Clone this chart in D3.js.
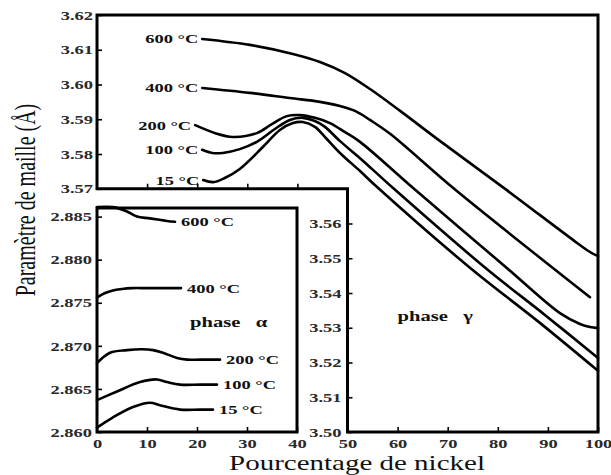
<!DOCTYPE html>
<html>
<head>
<meta charset="utf-8">
<script src="https://cdn.jsdelivr.net/npm/d3@7"></script>
<style>
  html, body { margin: 0; padding: 0; background: #fff; }
  svg { display: block; }
  text { font-family: "Liberation Serif", "Times New Roman", serif; }
</style>
</head>
<body>
<svg id="chart" width="611" height="475"></svg>
<script>
// Lattice parameter of Fe–Ni alloys versus nickel content.
// Gamma phase (fcc) in the main frame, alpha phase (bcc) in the inset.

const temps = ["600 °C", "400 °C", "200 °C", "100 °C", "15 °C"];

// gamma phase: % Ni and lattice parameter (Å)
const gammaX600 = [21.0, 30.5, 39.1, 44.5, 49.5, 54.5, 60.5, 68.5, 81.8, 95.0, 98.4, 100];
const gammaY600 = [3.6131, 3.6114, 3.6088, 3.6065, 3.6033, 3.5987, 3.5924, 3.5837, 3.5696, 3.5553, 3.5518, 3.5506];
const gammaX400 = [21.0, 30.5, 38.5, 44.5, 48.5, 51.5, 54.5, 58.5, 71.1, 91.0, 98.4];
const gammaY400 = [3.5990, 3.5976, 3.5961, 3.5950, 3.5938, 3.5924, 3.5898, 3.5858, 3.5702, 3.5472, 3.5388];
const gammaX200 = [19.6, 23.6, 27.1, 31.9, 34.9, 37.9, 40.5, 43.5, 46.5, 49.5, 52.5, 63.1, 81.8, 92.4, 96.4, 98.4, 100];
const gammaY200 = [3.5883, 3.5860, 3.5849, 3.5860, 3.5886, 3.5909, 3.5912, 3.5904, 3.5889, 3.5863, 3.5835, 3.5702, 3.5472, 3.5342, 3.5311, 3.5302, 3.5299];
const gammaX100 = [21.0, 23.0, 25.1, 28.5, 31.9, 35.5, 38.5, 41.1, 43.5, 45.5, 48.5, 52.5, 59.1, 77.8, 89.4, 100];
const gammaY100 = [3.5812, 3.5803, 3.5803, 3.5814, 3.5835, 3.5872, 3.5898, 3.5904, 3.5895, 3.5878, 3.5837, 3.5788, 3.5702, 3.5469, 3.5337, 3.5213];
const gammaX15 = [21.2, 23.2, 25.5, 28.5, 33.1, 36.5, 39.1, 41.1, 43.5, 45.5, 48.5, 52.5, 55.9, 74.5, 88.4, 100];
const gammaY15 = [3.5725, 3.5719, 3.5731, 3.5757, 3.5820, 3.5869, 3.5889, 3.5892, 3.5878, 3.5849, 3.5803, 3.5751, 3.5705, 3.5472, 3.5314, 3.5176];

// alpha phase: % Ni and lattice parameter (Å)
const alphaX600 = [0, 3.2, 6.0, 8.0, 10.6, 14.0, 15.6];
const alphaY600 = [2.8861, 2.8861, 2.8856, 2.8850, 2.8848, 2.8845, 2.8844];
const alphaX400 = [0, 1.5, 3.0, 5.0, 7.0, 10.0, 14.0, 16.8];
const alphaY400 = [2.8756, 2.8761, 2.8764, 2.8766, 2.8767, 2.8767, 2.8767, 2.8767];
const alphaX200 = [0, 2.6, 6.0, 9.0, 11.2, 13.2, 16.0, 18.0, 20.6, 24.6];
const alphaY200 = [2.8680, 2.8692, 2.8695, 2.8696, 2.8695, 2.8692, 2.8686, 2.8684, 2.8684, 2.8684];
const alphaX100 = [0, 4.0, 8.6, 12.0, 14.0, 16.6, 20.6, 24.0];
const alphaY100 = [2.8637, 2.8647, 2.8658, 2.8661, 2.8658, 2.8655, 2.8655, 2.8655];
const alphaX15 = [0, 3.2, 7.2, 10.6, 12.6, 16.6, 20.6, 23.2];
const alphaY15 = [2.8605, 2.8617, 2.8629, 2.8634, 2.8631, 2.8626, 2.8626, 2.8626];

// axis ticks
const upperYTicks = [3.57, 3.58, 3.59, 3.60, 3.61, 3.62];
const lowerYTicks = [3.50, 3.51, 3.52, 3.53, 3.54, 3.55, 3.56];
const upperXTicks = [10, 20, 30, 40];
const mainXTicks = [50, 60, 70, 80, 90, 100];
const insetXTicks = [0, 10, 20, 30, 40];
const insetYTicks = [2.860, 2.865, 2.870, 2.875, 2.880, 2.885];

const xTitle = "Pourcentage de nickel";
const yTitle = "Paramètre de maille (Å)";
const gammaLabel = "phase\u00a0\u00a0\u00a0γ";
const alphaLabel = "phase\u00a0\u00a0\u00a0α";

const zip = (xs, ys) => xs.map((v, i) => [v, ys[i]]);
const gammaSeries = [
  zip(gammaX600, gammaY600), zip(gammaX400, gammaY400), zip(gammaX200, gammaY200),
  zip(gammaX100, gammaY100), zip(gammaX15, gammaY15)
];
const alphaSeries = [
  zip(alphaX600, alphaY600), zip(alphaX400, alphaY400), zip(alphaX200, alphaY200),
  zip(alphaX100, alphaY100), zip(alphaX15, alphaY15)
];

const STRETCH = 1.42; // wide type

const svg = d3.select("#chart");

const x = d3.scaleLinear().domain([0, 100]).range([97, 598]);
const y = d3.scaleLinear().domain([3.50, 3.62]).range([432, 15]);
const xi = d3.scaleLinear().domain([0, 40]).range([97, 297]);
const yi = d3.scaleLinear().domain([2.860, 2.886]).range([432, 208]);

function widen(sel) {
  // stretch axis tick text horizontally around its own anchor
  sel.selectAll(".tick text").each(function () {
    const t = d3.select(this);
    const tx = +t.attr("x") || 0;
    t.attr("transform", `translate(${tx},0) scale(${STRETCH},1)`).attr("x", 0);
  });
}

function styleAxis(g) {
  g.select(".domain").remove();
  g.selectAll(".tick line").attr("stroke", "#000").attr("stroke-width", 1.6);
  g.selectAll(".tick text")
    .attr("fill", "#2a2a2a")
    .style("font-size", "13px")
    .style("font-weight", "bold")
    .style("font-family", "'Liberation Serif', serif");
  widen(g);
}

// ---- gamma (main) frame: stepped outline around the inset
const framePath = d3.path();
framePath.moveTo(x(0), y(3.62));
framePath.lineTo(x(100), y(3.62));
framePath.lineTo(x(100), y(3.50));
framePath.lineTo(x(50), y(3.50));
framePath.lineTo(x(50), y(3.57));
framePath.lineTo(x(0), y(3.57));
framePath.closePath();

// axes of the gamma frame
svg.append("g")
  .attr("transform", `translate(${x(0)},0)`)
  .call(d3.axisLeft(y).tickValues(upperYTicks).tickFormat(d3.format(".2f"))
    .tickSizeInner(-5).tickSizeOuter(0).tickPadding(4))
  .call(styleAxis);

svg.append("g")
  .attr("transform", `translate(${x(50)},0)`)
  .call(d3.axisLeft(y).tickValues(lowerYTicks).tickFormat(d3.format(".2f"))
    .tickSizeInner(-5).tickSizeOuter(0).tickPadding(6))
  .call(styleAxis);

svg.append("g")
  .attr("transform", `translate(0,${y(3.57)})`)
  .call(d3.axisBottom(x).tickValues(upperXTicks).tickFormat("")
    .tickSizeInner(-5).tickSizeOuter(0))
  .call(styleAxis);

svg.append("g")
  .attr("transform", `translate(0,${y(3.50)})`)
  .call(d3.axisBottom(x).tickValues(mainXTicks).tickFormat(d3.format("d"))
    .tickSizeInner(-5).tickSizeOuter(0).tickPadding(7))
  .call(styleAxis);

svg.append("path")
  .attr("d", framePath.toString())
  .attr("fill", "none")
  .attr("stroke", "#000")
  .attr("stroke-width", 3)
  .attr("stroke-linejoin", "miter");

// gamma curves
const gammaLine = d3.line()
  .x(d => x(d[0]))
  .y(d => y(d[1]))
  .curve(d3.curveCatmullRom.alpha(0.5));

svg.append("g").selectAll("path")
  .data(gammaSeries)
  .join("path")
  .attr("d", gammaLine)
  .attr("fill", "none")
  .attr("stroke", "#000")
  .attr("stroke-width", 2.6)
  .attr("stroke-linecap", "round");

function label(g, tx, ty, txt, anchor, size) {
  g.append("text")
    .attr("transform", `translate(${tx},${ty}) scale(${STRETCH},1)`)
    .attr("text-anchor", anchor)
    .style("font-size", size + "px")
    .style("font-weight", "bold")
    .attr("fill", "#111")
    .text(txt);
}

const gLabels = svg.append("g");
gammaSeries.forEach((s, i) => {
  label(gLabels, x(s[0][0]) - 4, y(s[0][1]) + 4.5, temps[i], "end", 13);
});
label(gLabels, x(60), y(3.532), gammaLabel, "start", 14.5);

// ---- alpha inset
const inset = svg.append("g");
inset.append("rect")
  .attr("x", xi(0)).attr("y", yi(2.886))
  .attr("width", xi(40) - xi(0)).attr("height", yi(2.860) - yi(2.886))
  .attr("fill", "#fff");

inset.append("g")
  .attr("transform", `translate(${xi(0)},0)`)
  .call(d3.axisLeft(yi).tickValues(insetYTicks).tickFormat(d3.format(".3f"))
    .tickSizeInner(-5).tickSizeOuter(0).tickPadding(5))
  .call(styleAxis);

inset.append("g")
  .attr("transform", `translate(0,${yi(2.860)})`)
  .call(d3.axisBottom(xi).tickValues(insetXTicks).tickFormat(d3.format("d"))
    .tickSizeInner(-5).tickSizeOuter(0).tickPadding(7))
  .call(styleAxis);

const alphaLine = d3.line()
  .x(d => xi(d[0]))
  .y(d => yi(d[1]))
  .curve(d3.curveCatmullRom.alpha(0.5));

inset.append("g").selectAll("path")
  .data(alphaSeries)
  .join("path")
  .attr("d", alphaLine)
  .attr("fill", "none")
  .attr("stroke", "#000")
  .attr("stroke-width", 2.6)
  .attr("stroke-linecap", "round");

inset.append("rect")
  .attr("x", xi(0)).attr("y", yi(2.886))
  .attr("width", xi(40) - xi(0)).attr("height", yi(2.860) - yi(2.886))
  .attr("fill", "none")
  .attr("stroke", "#000")
  .attr("stroke-width", 3);

alphaSeries.forEach((s, i) => {
  const last = s[s.length - 1];
  label(inset, xi(last[0]) + 6, yi(last[1]) + 4.5, temps[i], "start", 13);
});
label(inset, xi(18.6), yi(2.8722), alphaLabel, "start", 14.5);

// ---- axis titles
svg.append("text")
  .attr("transform", `translate(357,470) scale(1.45,1)`)
  .attr("text-anchor", "middle")
  .style("font-size", "20px")
  .attr("fill", "#111")
  .text(xTitle);

svg.append("text")
  .attr("transform", `translate(35,200) scale(${STRETCH},1) rotate(-90)`)
  .attr("text-anchor", "middle")
  .style("font-size", "20px")
  .attr("fill", "#111")
  .text(yTitle);
</script>
</body>
</html>
